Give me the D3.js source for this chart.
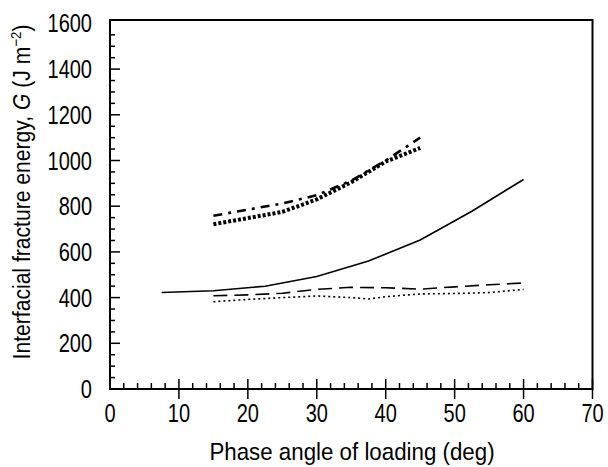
<!DOCTYPE html>
<html>
<head>
<meta charset="utf-8">
<script src="https://cdn.jsdelivr.net/npm/d3@7"></script>
<style>
  body { margin: 0; background: #fff; }
  svg { display: block; font-family: "Liberation Sans", Arial, sans-serif; }
  .frame { fill: none; stroke: #000; stroke-width: 2; }
  .tick-line { stroke: #000; stroke-width: 1.5; }
  .series { fill: none; stroke: #000; }
</style>
</head>
<body>
<svg id="chart" width="608" height="467"></svg>
<script>
const xTicks = [0, 10, 20, 30, 40, 50, 60, 70];
const yTicks = [0, 200, 400, 600, 800, 1000, 1200, 1400, 1600];

// phase angle (deg) for each series
const solidX    = [7.5, 15, 22.5, 30, 37.5, 45, 52.5, 60];
const solidG    = [422, 430, 450, 492, 560, 652, 778, 917];

const dashedX   = [15, 20, 25, 30, 35, 40, 45, 50, 55, 60];
const dashedG   = [408, 412, 419, 436, 445, 443, 437, 447, 456, 464];

const dottedX   = [15, 20, 25, 30, 35, 37.5, 40, 45, 50, 55, 60];
const dottedG   = [382, 392, 400, 407, 400, 394, 404, 416, 418, 422, 436];

const thickX    = [15, 20, 25, 30, 35, 40, 45];
const thickG    = [721, 748, 775, 830, 905, 995, 1055];

const dashDotX  = [15, 20, 25, 30, 35, 40, 45];
const dashDotG  = [758, 785, 812, 848, 912, 1000, 1100];

const plotL = 110, plotR = 592.5, plotT = 20, plotB = 389;
const NARROW = 0.8;  // the print font is a narrow Helvetica

const svg = d3.select('#chart');

const x = d3.scaleLinear().domain([0, 70]).range([plotL, plotR]);
const y = d3.scaleLinear().domain([0, 1600]).range([plotB, 23.4]);

// minor ticks (inward)
const g = svg.append('g');
g.selectAll('.xminor')
  .data(d3.range(0, 70, 2).filter(d => d % 10 !== 0))
  .enter().append('line')
    .attr('class', 'tick-line')
    .attr('x1', d => x(d)).attr('x2', d => x(d))
    .attr('y1', plotB).attr('y2', plotB - 6);

g.selectAll('.xmajor')
  .data(xTicks.slice(1))
  .enter().append('line')
    .attr('class', 'tick-line')
    .attr('x1', d => x(d)).attr('x2', d => x(d))
    .attr('y1', plotB - 10).attr('y2', plotB + 10);

g.selectAll('.yminor')
  .data(d3.range(50, 1600, 50).filter(d => d % 200 !== 0))
  .enter().append('line')
    .attr('class', 'tick-line')
    .attr('x1', plotL).attr('x2', plotL + 5)
    .attr('y1', d => y(d)).attr('y2', d => y(d));

g.selectAll('.ymajor')
  .data(yTicks.slice(1, -1))
  .enter().append('line')
    .attr('class', 'tick-line')
    .attr('x1', plotL).attr('x2', plotL + 10)
    .attr('y1', d => y(d)).attr('y2', d => y(d));

svg.append('rect')
  .attr('class', 'frame')
  .attr('x', plotL).attr('y', plotT)
  .attr('width', plotR - plotL).attr('height', plotB - plotT);

// tick labels
svg.selectAll('.xlab')
  .data(xTicks)
  .enter().append('text')
    .attr('transform', d => `translate(${x(d)},422) scale(${NARROW},1)`)
    .attr('text-anchor', 'middle')
    .attr('font-size', 25)
    .text(d => d);

svg.selectAll('.ylab')
  .data(yTicks)
  .enter().append('text')
    .attr('transform', d => `translate(92,${y(d) + 9}) scale(${NARROW},1)`)
    .attr('text-anchor', 'end')
    .attr('font-size', 25)
    .text(d => d);

svg.append('text')
  .attr('transform', 'translate(352,460) scale(0.93,1)')
  .attr('text-anchor', 'middle')
  .attr('font-size', 24)
  .text('Phase angle of loading (deg)');

const yt = svg.append('text')
  .attr('transform', 'translate(30,192) rotate(-90) scale(0.88,1)')
  .attr('text-anchor', 'middle')
  .attr('font-size', 24);
yt.append('tspan').text('Interfacial fracture energy, ');
yt.append('tspan').attr('font-style', 'italic').text('G');
yt.append('tspan').text(' (J m');
yt.append('tspan').attr('font-size', 15).attr('dy', -9).text('\u22122');
yt.append('tspan').attr('dy', 9).text(')');

// series
const line = d3.line().x(d => x(d[0])).y(d => y(d[1]));
const series = [
  { xs: solidX,   ys: solidG,   width: 1.6, dash: null },
  { xs: dashedX,  ys: dashedG,  width: 1.6, dash: '14 7' },
  { xs: dottedX,  ys: dottedG,  width: 1.6, dash: '2 3' },
  { xs: thickX,   ys: thickG,   width: 4,   dash: '3 2', color: '#333' },
  { xs: dashDotX, ys: dashDotG, width: 2.6, dash: '9 6 3 6' }
];

svg.selectAll('.series')
  .data(series)
  .enter().append('path')
    .attr('class', 'series')
    .attr('d', s => line(d3.zip(s.xs, s.ys)))
    .attr('stroke', s => s.color || '#000')
    .attr('stroke-width', s => s.width)
    .attr('stroke-dasharray', s => s.dash);
</script>
</body>
</html>
